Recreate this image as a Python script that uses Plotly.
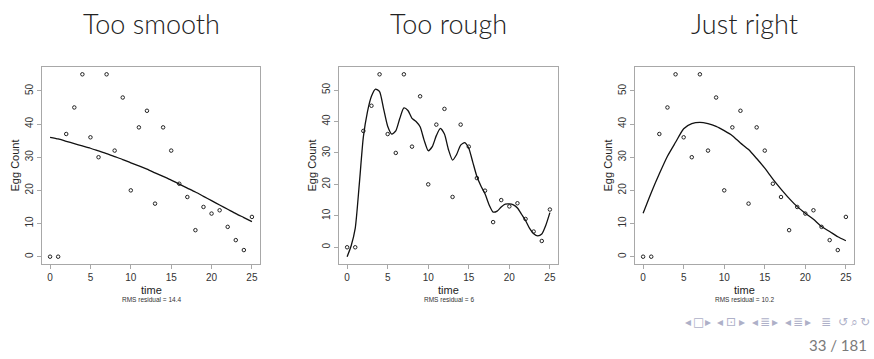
import plotly.graph_objects as go

W, H = 874, 359

# ---- data ----
time = list(range(26))
eggs = [0, 0, 37, 45, 55, 36, 30, 55, 32, 48, 20, 39, 44, 16, 39, 32, 22, 18, 8, 15, 13, 14, 9, 5, 2, 12]

smooth_x = list(range(26))
smooth_y = [36.0, 35.5, 34.8, 34.1, 33.4, 32.7, 31.9, 31.1, 30.2, 29.3, 28.3, 27.4, 26.4,
            25.3, 24.2, 23.1, 21.9, 20.7, 19.5, 18.2, 16.9, 15.6, 14.3, 13.0, 11.8, 10.6]

rough_x = [i * 0.5 for i in range(51)]
rough_y = [-3, 0.5, 6, 20, 35, 43, 48, 50.3, 49.5, 44, 38.5, 36, 37, 41, 44.3, 43.5, 41, 40,
           38.3, 34, 30.7, 32, 35.5, 37.8, 36, 31, 27.7, 29.5, 32.5, 33.3, 31.5, 27, 22.5,
           19.5, 17, 13.5, 11.2, 11.5, 12.8, 13.7, 13.8, 13.5, 12.5, 10.5, 8.5, 6, 4.3, 3.6,
           4.2, 7, 11]

right_x = list(range(26))
right_y = [13.1, 19.3, 25.0, 30.3, 34.5, 38.6, 40.1, 40.5, 40.1, 39.3, 38.0, 36.5, 34.3,
           32.3, 29.6, 26.7, 23.4, 20.4, 17.6, 15.1, 13.1, 11.3, 9.1, 7.6, 6.0, 4.8]

titles = ["Too smooth", "Too rough", "Just right"]
rms_labels = ["RMS residual = 14.4", "RMS residual = 6", "RMS residual = 10.2"]
x_ticks = [0, 5, 10, 15, 20, 25]
y_ticks = [0, 10, 20, 30, 40, 50]
y_ranges = [[-2.2, 57.2], [-5.32, 57.32], [-2.2, 57.2]]
curves = [(smooth_x, smooth_y), (rough_x, rough_y), (right_x, right_y)]

# ---- layout geometry (pixels) ----
boxes = [(42, 260), (339, 558), (635, 854)]
top_px, bot_px = 67, 264

def px(x):
    return x / W

def py(y):
    return 1 - y / H

fig = go.Figure()
layout = dict(width=W, height=H, margin=dict(l=0, r=0, t=0, b=0),
              paper_bgcolor="white", plot_bgcolor="white", showlegend=False)
annotations = []
box_col = "#a8a8a8"
tick_font = dict(family="Liberation Sans, Arial, sans-serif", size=10, color="#333333")

for i in range(3):
    xa = "x" if i == 0 else f"x{i+1}"
    ya = "y" if i == 0 else f"y{i+1}"
    cx, cy = curves[i]
    fig.add_trace(go.Scatter(x=time, y=eggs, mode="markers", xaxis=xa, yaxis=ya,
                             marker=dict(symbol="circle-open", size=3.5, color="#222222",
                                         line=dict(width=1, color="#222222"))))
    fig.add_trace(go.Scatter(x=cx, y=cy, mode="lines", xaxis=xa, yaxis=ya,
                             line=dict(color="#111111", width=1.3, shape="spline", smoothing=0.6)))
    l, r = boxes[i]
    xkey = "xaxis" if i == 0 else f"xaxis{i+1}"
    ykey = "yaxis" if i == 0 else f"yaxis{i+1}"
    layout[xkey] = dict(domain=[px(l), px(r)], range=[-1, 26], anchor=ya,
                        tickvals=x_ticks, ticks="outside", ticklen=4, tickcolor=box_col,
                        showline=True, linecolor=box_col, linewidth=1, mirror=True,
                        showgrid=False, zeroline=False, tickfont=tick_font)
    layout[ykey] = dict(domain=[py(bot_px), py(top_px)], range=y_ranges[i], anchor=xa,
                        tickvals=y_ticks, ticks="outside", ticklen=4, tickcolor=box_col,
                        showline=True, linecolor=box_col, linewidth=1, mirror=True,
                        showgrid=False, zeroline=False, tickangle=-90, tickfont=tick_font)
    mid = (l + r) / 2
    annotations.append(dict(text=titles[i], x=px(mid), y=py(23), xref="paper", yref="paper",
                            showarrow=False, xanchor="center", yanchor="middle",
                            font=dict(family="Lato, sans-serif", size=27, color="#222222",
                                      weight=300)))
    annotations.append(dict(text="time", x=px(mid), y=py(290), xref="paper", yref="paper",
                            showarrow=False, xanchor="center", yanchor="middle",
                            font=dict(family="Liberation Sans, Arial, sans-serif", size=11, color="#222222")))
    annotations.append(dict(text=rms_labels[i], x=px(mid), y=py(299), xref="paper", yref="paper",
                            showarrow=False, xanchor="center", yanchor="middle",
                            font=dict(family="Liberation Sans, Arial, sans-serif", size=6.5, color="#333333")))
    annotations.append(dict(text="Egg Count", x=px(l - 27), y=py((top_px + bot_px) / 2),
                            xref="paper", yref="paper", showarrow=False, textangle=-90,
                            xanchor="center", yanchor="middle",
                            font=dict(family="Liberation Sans, Arial, sans-serif", size=11, color="#222222")))

# beamer navigation symbols and page number
nav_col = "#aeb0c8"
nav_items = [("◂", 688), ("□", 698), ("▸", 708), ("◂", 720), ("⊡", 731), ("▸", 742),
             ("◂", 755), ("≣", 765), ("▸", 775), ("◂", 788), ("≣", 798), ("▸", 808),
             ("≣", 826), ("↺", 843), ("⌕", 854), ("↻", 865)]
for sym, xpos in nav_items:
    annotations.append(dict(text=sym, x=px(xpos), y=py(322), xref="paper", yref="paper",
                            showarrow=False, xanchor="center", yanchor="middle",
                            font=dict(family="DejaVu Sans, sans-serif", size=12, color=nav_col)))
annotations.append(dict(text="33 / 181", x=px(869), y=py(345), xref="paper", yref="paper",
                        showarrow=False, xanchor="right", yanchor="middle",
                        font=dict(family="Lato, sans-serif", size=15, color="#7a7a7a")))

layout["annotations"] = annotations
fig.update_layout(**layout)
fig.write_html("out.html")
